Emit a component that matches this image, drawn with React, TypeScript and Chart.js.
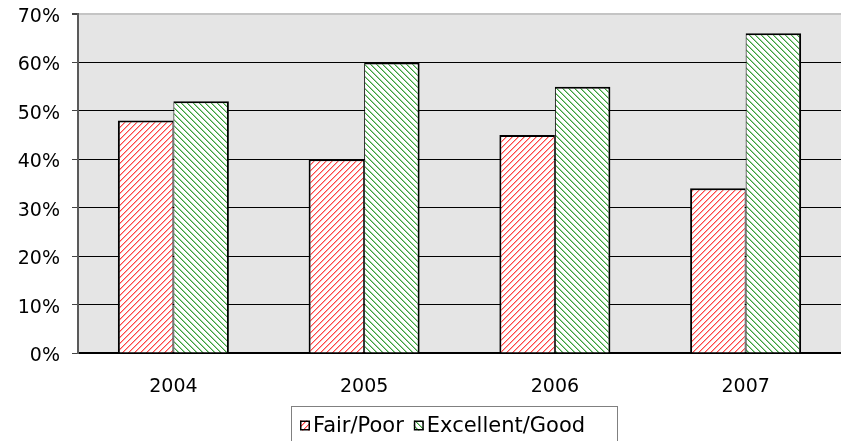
import React, { useEffect, useRef } from "react";
import { Chart, registerables } from "chart.js";

Chart.register(...registerables);

const years = ["2004", "2005", "2006", "2007"];
const fairPoor = [48, 40, 45, 34];
const excellentGood = [52, 60, 55, 66];
const seriesNames = ["Fair/Poor", "Excellent/Good"];
const yTicks = [0, 10, 20, 30, 40, 50, 60, 70];

const FONT = "'DejaVu Sans', sans-serif";

function makePattern(full: string, pale: string, dir: number): CanvasPattern | string {
  const size = 6;
  const c = document.createElement("canvas");
  c.width = size;
  c.height = size;
  const g = c.getContext("2d");
  if (!g) return full;
  g.fillStyle = "#ffffff";
  g.fillRect(0, 0, size, size);
  for (let x = 0; x < size; x++) {
    for (let y = 0; y < size; y++) {
      const k = dir > 0 ? (x + y) % size : (((x - y) % size) + size) % size;
      if (k === 0) {
        g.fillStyle = full;
        g.fillRect(x, y, 1, 1);
      } else if (k === 1) {
        g.fillStyle = pale;
        g.fillRect(x, y, 1, 1);
      }
    }
  }
  const p = g.createPattern(c, "repeat");
  return p || full;
}

export default function App() {
  const ref = useRef<HTMLCanvasElement | null>(null);

  useEffect(() => {
    if (!ref.current) return;
    const redPat = makePattern("#ff4545", "#ffa8a8", 1);
    const greenPat = makePattern("#3a9e3a", "#9fd29f", -1);

    const bgPlugin = {
      id: "plotBg",
      beforeDraw(chart: any) {
        const { ctx, chartArea } = chart;
        ctx.save();
        ctx.fillStyle = "#e5e5e5";
        ctx.fillRect(chartArea.left, chartArea.top, chartArea.right - chartArea.left, chartArea.bottom - chartArea.top);
        ctx.restore();
      },
    };

    const legendPlugin = {
      id: "boxLegend",
      afterDraw(chart: any) {
        const ctx = chart.ctx as CanvasRenderingContext2D;
        ctx.save();
        ctx.font = `21px ${FONT}`;
        ctx.textBaseline = "middle";
        const pats = [redPat, greenPat];
        const boxL = 291, boxT = 406;
        let x = 300;
        const yMid = 426.5;
        seriesNames.forEach((name, i) => {
          ctx.fillStyle = pats[i] as any;
          ctx.fillRect(x, yMid - 6, 10, 10);
          ctx.strokeStyle = "#000";
          ctx.lineWidth = 1.5;
          ctx.strokeRect(x + 0.75, yMid - 5.25, 8.5, 8.5);
          ctx.fillStyle = "#000";
          ctx.fillText(name, x + 13, yMid);
          const w = ctx.measureText(name).width;
          x = x + 13 + w + 10;
        });
        const boxR = Math.max(617, x + 2);
        ctx.strokeStyle = "#808080";
        ctx.lineWidth = 1;
        ctx.strokeRect(boxL + 0.5, boxT + 0.5, boxR - boxL, 60);
        ctx.restore();
      },
    };

    const chart = new Chart(ref.current, {
      type: "bar",
      data: {
        labels: years,
        datasets: [
          {
            label: seriesNames[0],
            data: fairPoor,
            backgroundColor: redPat as any,
            borderColor: "#000",
            borderWidth: { top: 2, left: 2, right: 1, bottom: 0 } as any,
            borderSkipped: "bottom",
          },
          {
            label: seriesNames[1],
            data: excellentGood,
            backgroundColor: greenPat as any,
            borderColor: "#000",
            borderWidth: { top: 2, left: 1, right: 2, bottom: 0 } as any,
            borderSkipped: "bottom",
          },
        ],
      },
      options: {
        responsive: false,
        animation: false,
        layout: { padding: { top: 14, right: 0, left: 0, bottom: 0 } },
        datasets: { bar: { categoryPercentage: 0.582, barPercentage: 1 } },
        plugins: { legend: { display: false }, tooltip: { enabled: false } },
        scales: {
          x: {
            grid: { display: false, drawTicks: false },
            border: { display: true, color: "#000", width: 2 },
            ticks: { color: "#000", font: { family: FONT, size: 19 }, padding: 23 },
            afterFit(scale: any) {
              scale.height = 88;
              scale.paddingLeft = 0;
              scale.paddingRight = 0;
            },
          },
          y: {
            min: 0,
            max: 70,
            afterBuildTicks(scale: any) {
              scale.ticks = yTicks.map((v) => ({ value: v }));
            },
            grid: {
              color: (c: any) => (c.tick && c.tick.value === 70 ? "#c4c4c4" : "#000"),
              lineWidth: (c: any) => (c.tick && c.tick.value === 70 ? 2 : 1),
              tickColor: "#444",
              tickLength: 6,
            },
            border: { display: true, color: "#5a5a5a", width: 2 },
            ticks: {
              color: "#000",
              font: { family: FONT, size: 19 },
              padding: 12,
              labelOffset: 3,
              callback: (v: any) => `${v}%`,
            },
            afterFit(scale: any) {
              scale.width = 78;
              scale.paddingTop = 0;
              scale.paddingBottom = 0;
            },
          },
        },
      },
      plugins: [bgPlugin, legendPlugin],
    });
    return () => chart.destroy();
  }, []);

  return (
    <div style={{ position: "absolute", left: 0, top: 0, width: 841, height: 441 }}>
      <canvas ref={ref} width={841} height={441} style={{ display: "block" }} />
    </div>
  );
}
